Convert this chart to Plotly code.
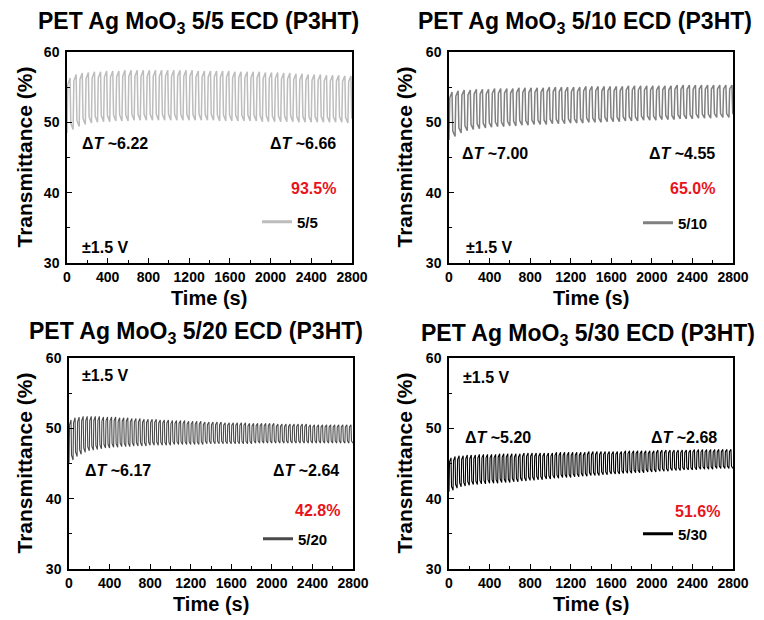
import plotly.graph_objects as go

# ---------------- data ----------------
time_ticks = [0, 400, 800, 1200, 1600, 2000, 2400, 2800]

# panel 1 : 5/5  (cycle period 60 s)
p55_period = 60
p55_start = 48.5
p55_peak = [56.3, 56.8, 57.0, 57.1, 57.2, 57.2, 57.3, 57.3, 57.3, 57.4,
            57.4, 57.4, 57.4, 57.4, 57.4, 57.4, 57.4, 57.4, 57.4, 57.4,
            57.4, 57.3, 57.3, 57.3, 57.3, 57.3, 57.3, 57.2, 57.2, 57.2,
            57.2, 57.2, 57.1, 57.1, 57.1, 57.0, 57.0, 56.9, 56.9, 56.8,
            56.8, 56.8, 56.7, 56.7, 56.7, 56.6, 56.6]
p55_trough = [49.0, 49.4, 49.7, 49.9, 50.0, 50.1, 50.1, 50.2, 50.2, 50.2,
              50.3, 50.3, 50.3, 50.3, 50.3, 50.3, 50.3, 50.3, 50.3, 50.3,
              50.3, 50.3, 50.3, 50.3, 50.2, 50.2, 50.2, 50.2, 50.2, 50.2,
              50.2, 50.1, 50.1, 50.1, 50.1, 50.1, 50.1, 50.0, 50.0, 50.0,
              50.0, 50.0, 50.0, 50.0, 50.0, 49.9, 49.9]

# panel 2 : 5/10 (cycle period 60 s)
p510_period = 60
p510_start = 47.5
p510_peak = [54.3, 54.5, 54.6, 54.6, 54.7, 54.7, 54.7, 54.8, 54.8, 54.8,
             54.8, 54.9, 54.9, 54.9, 54.9, 54.9, 55.0, 55.0, 55.0, 55.0,
             55.0, 55.0, 55.1, 55.1, 55.1, 55.1, 55.1, 55.1, 55.1, 55.2,
             55.2, 55.2, 55.2, 55.2, 55.2, 55.2, 55.2, 55.3, 55.3, 55.3,
             55.3, 55.3, 55.3, 55.3, 55.3, 55.3, 55.3]
p510_trough = [48.0, 48.5, 48.8, 49.0, 49.1, 49.2, 49.3, 49.4, 49.4, 49.5,
               49.5, 49.6, 49.6, 49.7, 49.7, 49.7, 49.8, 49.8, 49.8, 49.9,
               49.9, 49.9, 50.0, 50.0, 50.0, 50.1, 50.1, 50.1, 50.2, 50.2,
               50.2, 50.3, 50.3, 50.3, 50.4, 50.4, 50.4, 50.5, 50.5, 50.5,
               50.6, 50.6, 50.6, 50.7, 50.7, 50.7, 50.8]

# panel 3 : 5/20 (cycle period 40 s)
p520_period = 40
p520_start = 45.0
p520_peak = [51.2, 51.5, 51.6, 51.7, 51.7, 51.7, 51.7, 51.7, 51.6, 51.6,
             51.6, 51.6, 51.5, 51.5, 51.5, 51.4, 51.4, 51.4, 51.3, 51.3,
             51.3, 51.3, 51.2, 51.2, 51.2, 51.1, 51.1, 51.1, 51.1, 51.0,
             51.0, 51.0, 51.0, 50.9, 50.9, 50.9, 50.9, 50.9, 50.8, 50.8,
             50.8, 50.8, 50.8, 50.8, 50.7, 50.7, 50.7, 50.7, 50.7, 50.7,
             50.7, 50.6, 50.6, 50.6, 50.6, 50.6, 50.6, 50.6, 50.6, 50.5,
             50.5, 50.5, 50.5, 50.5, 50.5, 50.5, 50.5, 50.5, 50.5, 50.5]
p520_trough = [45.5, 46.0, 46.3, 46.6, 46.8, 46.9, 47.0, 47.1, 47.2, 47.2,
               47.3, 47.3, 47.4, 47.4, 47.4, 47.5, 47.5, 47.5, 47.5, 47.6,
               47.6, 47.6, 47.6, 47.6, 47.6, 47.7, 47.7, 47.7, 47.7, 47.7,
               47.7, 47.7, 47.7, 47.8, 47.8, 47.8, 47.8, 47.8, 47.8, 47.8,
               47.8, 47.8, 47.8, 47.8, 47.8, 47.9, 47.9, 47.9, 47.9, 47.9,
               47.9, 47.9, 47.9, 47.9, 47.9, 47.9, 47.9, 47.9, 47.9, 47.9,
               47.9, 47.9, 47.9, 47.9, 47.9, 47.9, 47.9, 47.9, 47.9, 47.9]

# panel 4 : 5/30 (cycle period 40 s)
p530_period = 40
p530_start = 41.0
p530_peak = [45.8, 46.0, 46.1, 46.1, 46.2, 46.2, 46.2, 46.3, 46.3, 46.3,
             46.3, 46.3, 46.4, 46.4, 46.4, 46.4, 46.4, 46.4, 46.5, 46.5,
             46.5, 46.5, 46.5, 46.5, 46.5, 46.5, 46.6, 46.6, 46.6, 46.6,
             46.6, 46.6, 46.6, 46.6, 46.7, 46.7, 46.7, 46.7, 46.7, 46.7,
             46.7, 46.7, 46.7, 46.8, 46.8, 46.8, 46.8, 46.8, 46.8, 46.8,
             46.8, 46.9, 46.9, 46.9, 46.9, 46.9, 46.9, 46.9, 46.9, 46.9,
             47.0, 47.0, 47.0, 47.0, 47.0, 47.0, 47.0, 47.0, 47.0, 47.0]
p530_trough = [41.2, 41.5, 41.7, 41.8, 41.9, 42.0, 42.0, 42.1, 42.1, 42.2,
               42.2, 42.2, 42.3, 42.3, 42.3, 42.4, 42.4, 42.5, 42.5, 42.6,
               42.6, 42.7, 42.7, 42.8, 42.8, 42.9, 42.9, 43.0, 43.0, 43.0,
               43.1, 43.1, 43.2, 43.2, 43.3, 43.3, 43.3, 43.4, 43.4, 43.5,
               43.5, 43.5, 43.6, 43.6, 43.6, 43.7, 43.7, 43.7, 43.8, 43.8,
               43.8, 43.9, 43.9, 43.9, 44.0, 44.0, 44.0, 44.1, 44.1, 44.1,
               44.1, 44.2, 44.2, 44.2, 44.2, 44.3, 44.3, 44.3, 44.3, 44.3]

panel_names = ["5/5", "5/10", "5/20", "5/30"]
panel_titles = ["PET Ag MoO<sub>3</sub> 5/5 ECD (P3HT)",
                "PET Ag MoO<sub>3</sub> 5/10 ECD (P3HT)",
                "PET Ag MoO<sub>3</sub> 5/20 ECD (P3HT)",
                "PET Ag MoO<sub>3</sub> 5/30 ECD (P3HT)"]
dT_start = ["6.22", "7.00", "6.17", "5.20"]
dT_end = ["6.66", "4.55", "2.64", "2.68"]
ratio_text = ["93.5%", "65.0%", "42.8%", "51.6%"]

# ---------------- styling ----------------
FONT = "Liberation Sans, Arial, sans-serif"
colors = ["#bdbdbd", "#808080", "#4a4a4a", "#000000"]
OFF = 8                      # page body margin of the browser
W, H = 764 - OFF, 620 - OFF


def px_x(v):
    return (v - OFF) / W


def px_y(v):
    return 1 - (v - OFF) / H


def build_wave(start, peaks, troughs, period):
    """connect each cycle's bleached maximum and coloured minimum"""
    t, y = [0.0], [start]
    prev = start
    for i, (p, q) in enumerate(zip(peaks, troughs)):
        t0 = i * period
        t += [t0 + 0.12 * period, t0 + 0.5 * period,
              t0 + 0.62 * period, t0 + period]
        y += [p - 0.12 * (p - prev), p, q + 0.12 * (p - q), q]
        prev = q
    return t, y


series = [
    (p55_start, p55_peak, p55_trough, p55_period),
    (p510_start, p510_peak, p510_trough, p510_period),
    (p520_start, p520_peak, p520_trough, p520_period),
    (p530_start, p530_peak, p530_trough, p530_period),
]

# plot-area pixel boxes in the reference: (left, right, top, bottom)
boxes = [(67, 352, 52, 263), (449, 733, 52, 263),
         (69, 353, 358, 569), (449, 733, 358, 569)]
widths = [1.5, 1.5, 1.1, 1.1]
legend_y = [222, 223, 539, 534]

fig = go.Figure()
annotations = []
layout = {}

for k in range(4):
    sfx = "" if k == 0 else str(k + 1)
    t, y = build_wave(*series[k])
    lg = "legend" if k == 0 else "legend" + str(k + 1)
    fig.add_trace(go.Scatter(
        x=t, y=y, mode="lines", name=panel_names[k],
        line=dict(color=colors[k], width=widths[k]),
        xaxis="x" + sfx, yaxis="y" + sfx, showlegend=False))
    # legend key (thicker line, as in the reference)
    fig.add_trace(go.Scatter(
        x=[None], y=[None], mode="lines", name=panel_names[k],
        line=dict(color=colors[k], width=3),
        xaxis="x" + sfx, yaxis="y" + sfx, legend=lg, showlegend=True))

    l, r, tp, bt = boxes[k]
    axis_common = dict(
        showline=True, linecolor="black", linewidth=1.5, mirror=True,
        ticks="inside", ticklen=5, tickwidth=1.3, tickcolor="black",
        showgrid=False, zeroline=False, automargin=False,
        tickfont=dict(family=FONT, size=14, color="black", weight="bold"),
    )
    layout["xaxis" + sfx] = dict(
        domain=[px_x(l), px_x(r)], anchor="y" + sfx, range=[0, 2800],
        tickvals=time_ticks, ticktext=[str(v) for v in time_ticks],
        minor=dict(dtick=200, ticks="inside", ticklen=3, tickwidth=1.2,
                   tickcolor="black", showgrid=False),
        ticklabelstandoff=0,
        **axis_common)
    layout["yaxis" + sfx] = dict(
        domain=[px_y(bt), px_y(tp)], anchor="x" + sfx, range=[30, 60],
        tickvals=[30, 40, 50, 60],
        minor=dict(dtick=5, ticks="inside", ticklen=3, tickwidth=1.2,
                   tickcolor="black", showgrid=False),
        ticklabelstandoff=3,
        **axis_common)

    layout[lg] = dict(
        x=px_x(r - 95), y=px_y(legend_y[k]),
        xanchor="left", yanchor="middle", bgcolor="rgba(0,0,0,0)",
        borderwidth=0,
        font=dict(family=FONT, size=15, color="black", weight="bold"))

    # panel title
    title_cx = [198, 585, 196, 588][k]
    title_cy = [22, 22, 332, 334][k]
    annotations.append(dict(
        text="<b>" + panel_titles[k] + "</b>", xref="paper", yref="paper",
        x=px_x(title_cx), y=px_y(title_cy), xanchor="center",
        yanchor="middle", showarrow=False,
        font=dict(family=FONT, size=23, color="black")))
    # axis titles
    annotations.append(dict(
        text="<b>Transmittance (%)</b>", xref="paper", yref="paper",
        x=px_x([24, 404, 24, 404][k]), y=px_y((tp + bt) / 2),
        xanchor="center", yanchor="middle", textangle=-90, showarrow=False,
        font=dict(family=FONT, size=21, color="black")))
    annotations.append(dict(
        text="<b>Time (s)</b>", xref="paper", yref="paper",
        x=px_x((l + r) / 2), y=px_y(bt + 35),
        xanchor="center", yanchor="middle", showarrow=False,
        font=dict(family=FONT, size=20, color="black")))

# in-plot labels: (x px, y px, anchor, text, color)
labels = [
    (80, 143, "left", "Δ<i>T</i> ~" + dT_start[0], "black"),
    (338, 143, "right", "Δ<i>T</i> ~" + dT_end[0], "black"),
    (338, 188, "right", ratio_text[0], "#e8141c"),
    (80, 248, "left", "±1.5 V", "black"),

    (460, 153, "left", "Δ<i>T</i> ~" + dT_start[1], "black"),
    (717, 153, "right", "Δ<i>T</i> ~" + dT_end[1], "black"),
    (717, 188, "right", ratio_text[1], "#e8141c"),
    (464, 248, "left", "±1.5 V", "black"),

    (80, 375, "left", "±1.5 V", "black"),
    (83, 470, "left", "Δ<i>T</i> ~" + dT_start[2], "black"),
    (341, 470, "right", "Δ<i>T</i> ~" + dT_end[2], "black"),
    (342, 510, "right", ratio_text[2], "#e8141c"),

    (461, 377, "left", "±1.5 V", "black"),
    (463, 438, "left", "Δ<i>T</i> ~" + dT_start[3], "black"),
    (719, 438, "right", "Δ<i>T</i> ~" + dT_end[3], "black"),
    (722, 511, "right", ratio_text[3], "#e8141c"),
]
for (px, py, anc, txt, col) in labels:
    annotations.append(dict(
        text="<b>" + txt + "</b>", xref="paper", yref="paper",
        x=px_x(px), y=px_y(py), xanchor=anc, yanchor="middle",
        showarrow=False, font=dict(family=FONT, size=16, color=col)))

fig.update_layout(
    width=W, height=H, margin=dict(l=0, r=0, t=0, b=0),
    paper_bgcolor="white", plot_bgcolor="white",
    annotations=annotations, **layout)

fig.write_html("out.html")
